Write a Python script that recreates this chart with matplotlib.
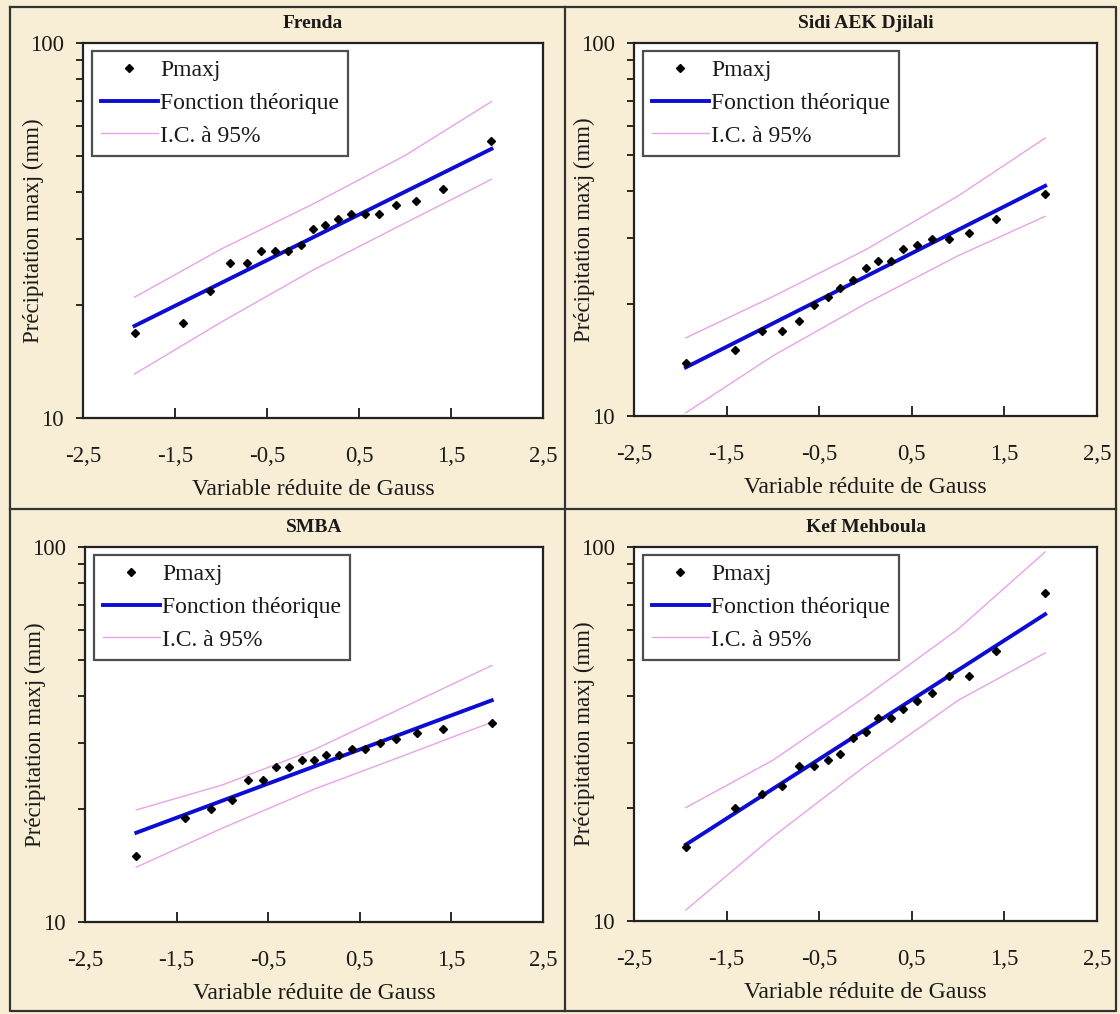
import numpy as np
import matplotlib
matplotlib.use("Agg")
import matplotlib.pyplot as plt
from matplotlib.lines import Line2D
from matplotlib.ticker import FixedLocator, NullFormatter

plt.rcParams['font.family'] = ['Liberation Serif', 'DejaVu Serif']

# variable reduite de Gauss des observations (19 valeurs classees)
z_pts = [-1.94, -1.41, -1.12, -0.90, -0.72, -0.56, -0.41, -0.27, -0.13, 0.0,
         0.13, 0.27, 0.41, 0.56, 0.72, 0.90, 1.12, 1.41, 1.94]

stations = ["Frenda", "Sidi AEK Djilali", "SMBA", "Kef Mehboula"]

# Pmaxj observees (mm)
frenda_p = [16.9, 17.9, 21.8, 25.9, 25.9, 27.9, 27.9, 27.9, 28.9, 32.0,
            32.8, 34.0, 34.9, 34.9, 34.9, 37.0, 37.9, 40.8, 54.8]
sidi_p = [13.9, 15.0, 16.9, 16.9, 18.0, 19.9, 20.9, 22.0, 23.1, 24.9,
          26.1, 26.1, 28.1, 28.8, 29.8, 29.9, 31.0, 33.7, 39.3]
smba_p = [15.0, 18.9, 20.0, 21.1, 23.9, 23.9, 25.9, 25.9, 27.0, 27.0,
          27.9, 27.9, 29.0, 29.0, 30.1, 30.7, 32.0, 32.8, 33.9]
kef_p = [15.8, 20.1, 21.8, 22.9, 25.9, 25.9, 26.9, 27.9, 30.9, 32.0,
         34.8, 34.9, 36.9, 38.7, 40.7, 45.2, 45.2, 52.7, 75.5]

# fonction theorique (extremites)
z_theo = [-1.94, 1.94]
frenda_theo = [17.6, 52.2]
sidi_theo = [13.5, 41.4]
smba_theo = [17.3, 39.0]
kef_theo = [16.0, 66.1]

# intervalle de confiance a 95%
z_ic = [-1.94, -1.0, 0.0, 1.0, 1.94]
frenda_sup = [21.0, 28.2, 37.2, 50.1, 69.8]
frenda_inf = [13.1, 18.0, 24.8, 33.1, 43.3]
sidi_sup = [16.2, 20.9, 27.9, 38.9, 55.6]
sidi_inf = [10.2, 14.5, 20.0, 26.9, 34.3]
smba_sup = [19.9, 23.2, 28.8, 37.6, 48.3]
smba_inf = [14.0, 17.8, 22.6, 27.9, 34.1]
kef_sup = [20.1, 26.9, 39.8, 60.3, 97.0]
kef_inf = [10.7, 16.8, 26.0, 38.9, 52.1]

x_ticks = [-2.5, -1.5, -0.5, 0.5, 1.5, 2.5]
x_labels = ["-2,5", "-1,5", "-0,5", "0,5", "1,5", "2,5"]

obs = [frenda_p, sidi_p, smba_p, kef_p]
theo = [frenda_theo, sidi_theo, smba_theo, kef_theo]
sup = [frenda_sup, sidi_sup, smba_sup, kef_sup]
inf = [frenda_inf, sidi_inf, smba_inf, kef_inf]

W, H = 1120, 1014
fig = plt.figure(figsize=(W / 100, H / 100), dpi=100)
fig.patch.set_facecolor("#f8edd5")

# cadres des axes en pixels (gauche, haut, droite, bas)
boxes = [(83, 43, 543, 418), (634, 43, 1097, 416),
         (85, 547, 543, 922), (634, 547, 1097, 921)]

blue = "#0c0cd2"
pink = "#e6a4e8"
txt = "#1a1a1a"

for i in range(4):
    l, t, r, b = boxes[i]
    ax = fig.add_axes([l / W, 1 - b / H, (r - l) / W, (b - t) / H])
    ax.set_facecolor("white")
    ax.plot(z_ic, sup[i], color=pink, lw=1.0)
    ax.plot(z_ic, inf[i], color=pink, lw=1.0)
    ax.plot(z_theo, theo[i], color=blue, lw=2.8)
    ax.plot(z_pts, obs[i], ls="none", marker="D", ms=4.2, color="black")

    ax.set_yscale("log")
    ax.set_ylim(10, 100)
    ax.set_xlim(-2.5, 2.5)
    ax.yaxis.set_major_locator(FixedLocator([10, 100]))
    ax.set_yticklabels(["10", "100"])
    ax.yaxis.set_minor_locator(FixedLocator([20, 30, 40, 50, 60, 70, 80, 90]))
    ax.yaxis.set_minor_formatter(NullFormatter())
    ax.set_xticks(x_ticks)
    ax.set_xticklabels(x_labels)
    ax.tick_params(axis="both", which="both", labelsize=16.5, colors=txt, width=1.3)
    ax.tick_params(axis="x", direction="in", length=7, pad=20)
    ax.tick_params(axis="y", which="both", direction="out", length=5, pad=9)
    for s in ax.spines.values():
        s.set_linewidth(1.6)
        s.set_color("#222222")

    ax.set_title(stations[i], fontsize=14, fontweight="bold", color=txt, pad=11)
    ax.set_xlabel("Variable réduite de Gauss", fontsize=17, color=txt)
    ax.set_ylabel("Précipitation maxj (mm)", fontsize=16.5, color=txt)
    ax.xaxis.set_label_coords(0.5, -0.163)
    ax.yaxis.set_label_coords(-0.085, 0.5)

    handles = [Line2D([], [], ls="none", marker="D", ms=4.2, color="black"),
               Line2D([], [], color=blue, lw=2.8),
               Line2D([], [], color=pink, lw=1.0)]
    leg = ax.legend(handles, ["Pmaxj", "Fonction théorique", "I.C. à 95%"],
                    loc="upper left", bbox_to_anchor=(0.0196, 0.979),
                    borderaxespad=0, fontsize=17, frameon=True, fancybox=False,
                    handlelength=2.4, handletextpad=0.1, labelspacing=0.47,
                    borderpad=0.38)
    leg.get_frame().set_edgecolor("#222222")
    leg.get_frame().set_linewidth(1.6)
    for tx in leg.get_texts():
        tx.set_color(txt)

# cadres des panneaux
frame_kw = dict(color="#333333", lw=1.6, transform=fig.transFigure)
fig.add_artist(Line2D([10 / W, 1116 / W, 1116 / W, 10 / W, 10 / W],
                      [1 - 7 / H, 1 - 7 / H, 1 - 1011 / H, 1 - 1011 / H, 1 - 7 / H], **frame_kw))
fig.add_artist(Line2D([565 / W, 565 / W], [1 - 7 / H, 1 - 1011 / H], **frame_kw))
fig.add_artist(Line2D([10 / W, 1116 / W], [1 - 509 / H, 1 - 509 / H], **frame_kw))

fig.savefig("out.png", dpi=100, facecolor=fig.get_facecolor())
